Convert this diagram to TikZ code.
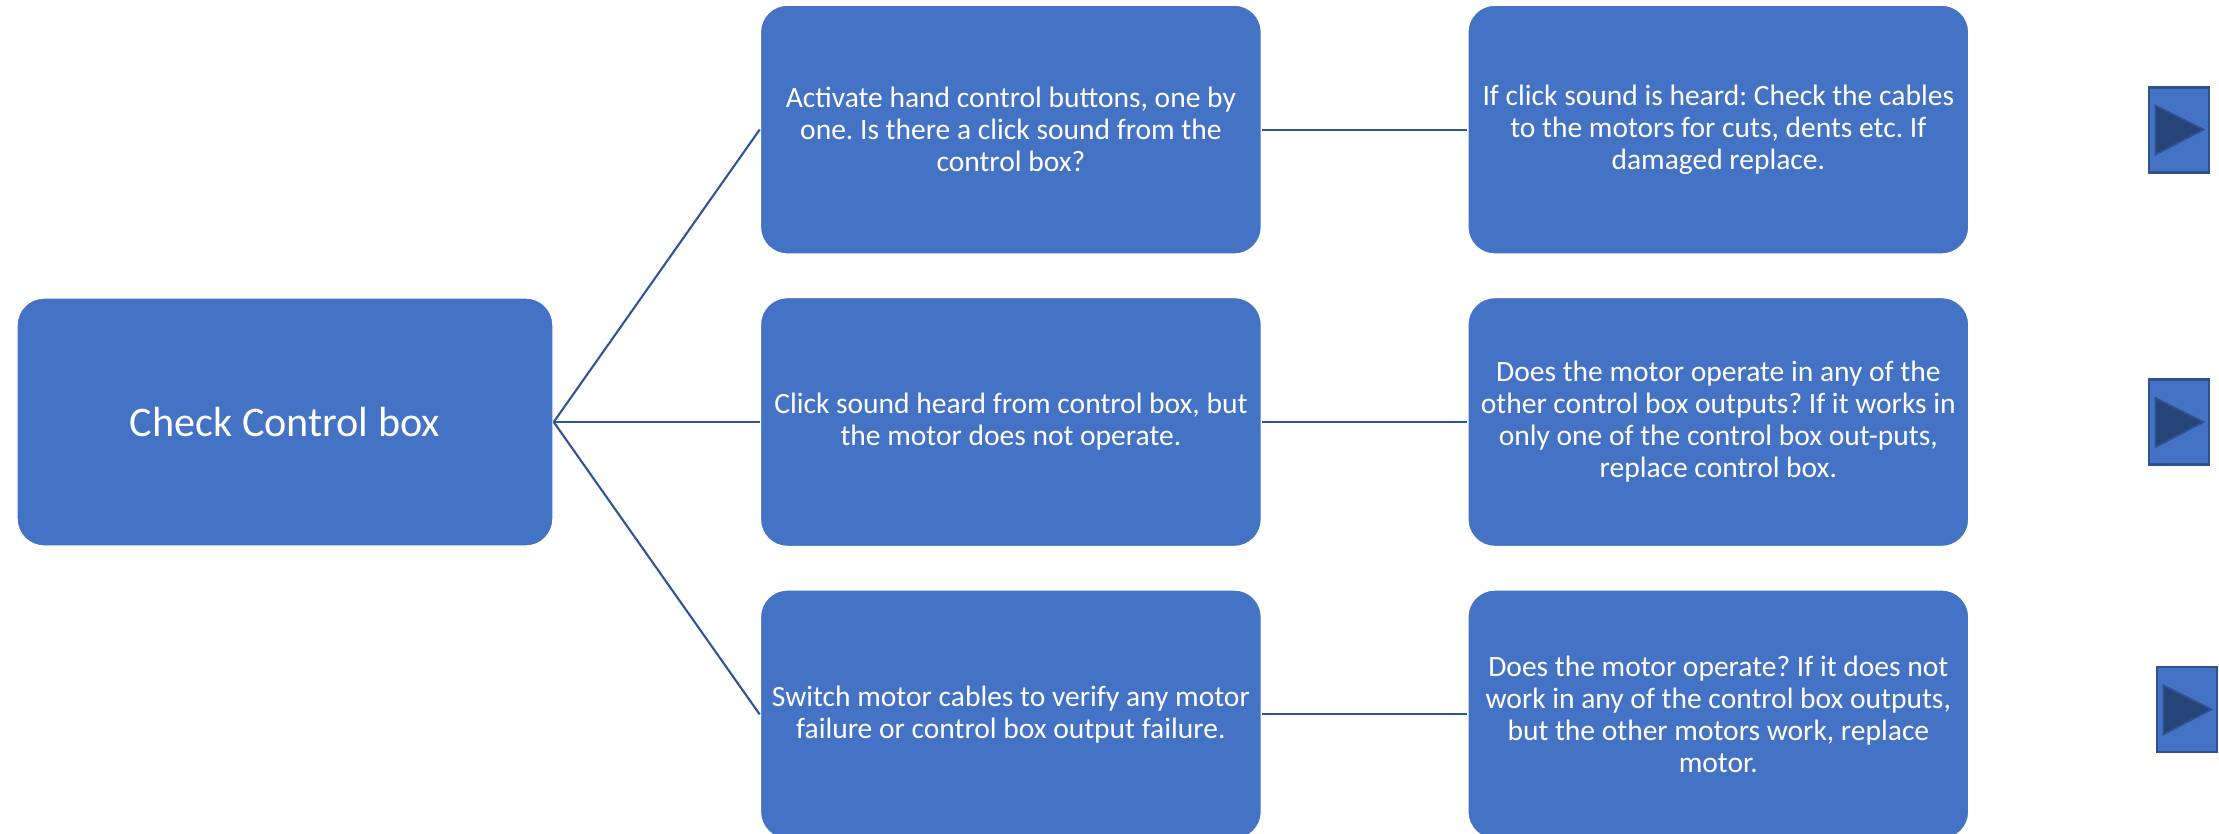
\documentclass[tikz,border=0pt]{standalone}
\usepackage{fontspec}
\setmainfont{Carlito}
\usetikzlibrary{positioning}
\definecolor{boxblue}{HTML}{4472C4}
\definecolor{lineblue}{HTML}{2F5597}
\definecolor{darkblue}{HTML}{264478}
\definecolor{edgeblue}{HTML}{2F528F}
\frenchspacing

\begin{document}
\begin{tikzpicture}[main/.style = {draw=white, line width=0.4pt, fill=boxblue, rounded corners=0.27cm, text=white, align=center, inner sep=2pt},
	big/.style = {main, minimum width=5.36cm, minimum height=2.48cm, font=\fontsize{12}{14.4}\selectfont},
	small/.style = {main, minimum width=5.01cm, minimum height=2.49cm, font=\fontsize{8.4}{9.1}\selectfont},
	icon/.style = {draw=edgeblue, line width=0.8pt, fill=boxblue, minimum width=0.6cm, minimum height=0.85cm, inner sep=0pt},
	tri/.style = {draw=edgeblue, fill=darkblue, line width=0.5pt},
	link/.style = {draw=lineblue, line width=0.6pt}]
	\useasboundingbox (0,0) rectangle (22.19,-8.34);
	\node[big] (1) at (2.85,-4.22) {Check Control box};
	\node[small] (3) [right=2.06cm of 1] {Click sound heard from control box, but\\ the motor does not operate.};
	\node[small] (2) [above=0.42cm of 3] {Activate hand control buttons, one by\\ one. Is there a click sound from the\\ control box?};
	\node[small] (4) [below=0.42cm of 3] {Switch motor cables to verify any motor\\ failure or control box output failure.};
	\node[small] (5) [right=2.05cm of 2] {If click sound is heard: Check the cables\\ to the motors for cuts, dents etc. If\\ damaged replace.};
	\node[small] (6) [right=2.05cm of 3] {Does the motor operate in any of the\\ other control box outputs? If it works in\\ only one of the control box out-puts,\\ replace control box.};
	\node[small] (7) [right=2.05cm of 4] {Does the motor operate? If it does not\\ work in any of the control box outputs,\\ but the other motors work, replace\\ motor.};
	\node[icon] (8) [right=1.78cm of 5] {};
	\node[icon] (9) [right=1.78cm of 6] {};
	\node[icon] (10) [right=1.86cm of 7,yshift=0.05cm] {};
	\draw[link] (1.east)--(2.west);
	\draw[link] (1.east)--(3.west);
	\draw[link] (1.east)--(4.west);
	\draw[link] (2)--(5);
	\draw[link] (3)--(6);
	\draw[link] (4)--(7);
	\draw[tri] ([shift={(-0.235,0.24)}]8.center) -- ([shift={(0.245,0)}]8.center) -- ([shift={(-0.235,-0.25)}]8.center) -- cycle;
	\draw[tri] ([shift={(-0.235,0.24)}]9.center) -- ([shift={(0.245,0)}]9.center) -- ([shift={(-0.235,-0.25)}]9.center) -- cycle;
	\draw[tri] ([shift={(-0.235,0.24)}]10.center) -- ([shift={(0.245,0)}]10.center) -- ([shift={(-0.235,-0.25)}]10.center) -- cycle;
\end{tikzpicture}
\end{document}
